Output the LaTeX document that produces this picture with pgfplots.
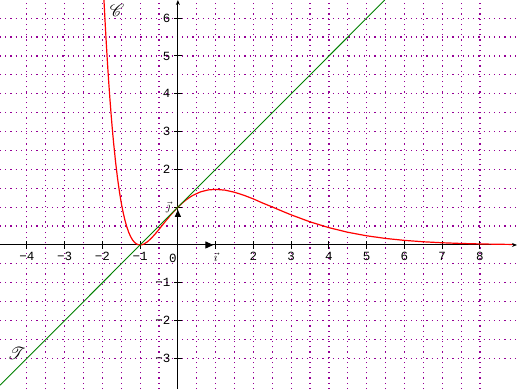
\documentclass[border=0pt]{standalone}
\usepackage{pgfplots}
\pgfplotsset{compat=1.18}
\usepackage{fontspec}
\setmonofont{Liberation Mono}
\usepackage{mathrsfs}
\usetikzlibrary{arrows.meta}
\definecolor{gridpurple}{RGB}{150,0,150}
\definecolor{tgreen}{RGB}{0,128,0}
\begin{document}
\begin{tikzpicture}
\begin{axis}[
  name=ax,
  scale only axis,
  width=517pt, height=389pt,
  xmin=-4.71, xmax=8.98,
  ymin=-3.81, ymax=6.48,
  axis lines=middle,
  axis line style={line width=1pt, -{Stealth[length=5pt,width=4pt]}},
  xtick={-4,...,8},
  xticklabels={−4,−3,−2,−1,,$\vec{\imath}$,2,3,4,5,6,7,8},
  ytick={-3,...,6},
  yticklabels={−3,−2,−1,,$\vec{\jmath}$,2,3,4,5,6},
  minor x tick num=1,
  minor y tick num=1,
  grid=both,
  major grid style={gridpurple, line width=1.2pt, dash pattern=on 1.2pt off 4pt},
  minor grid style={gridpurple, line width=1.2pt, dash pattern=on 1.2pt off 4pt},
  major tick length=8pt,
  minor tick length=0pt,
  tick align=center,
  tick style={black, line width=1pt},
  tick label style={font=\ttfamily\fontsize{12.5}{13}\selectfont, black},
  clip=true,
]
\addplot[red, line width=1.2pt] coordinates {
(-1.965,6.64) (-1.95,6.343) (-1.925,5.865) (-1.9,5.416) (-1.875,4.993) (-1.85,4.595)
(-1.825,4.222) (-1.8,3.872) (-1.775,3.544) (-1.75,3.237) (-1.725,2.950)
(-1.7,2.682) (-1.65,2.200) (-1.6,1.783) (-1.55,1.425) (-1.5,1.120) (-1.45,0.863)
(-1.4,0.649) (-1.35,0.473) (-1.3,0.330) (-1.25,0.218) (-1.2,0.133) (-1.15,0.0711)
(-1.1,0.0300) (-1.05,0.00714) (-1.0,0) (-0.95,0.0065) (-0.9,0.0246) (-0.8,0.0890) (-0.7,0.1812)
(-0.6,0.2915) (-0.5,0.4122) (-0.4,0.5370) (-0.3,0.6615) (-0.2,0.7817) (-0.1,0.8952)
(0,1) (0.1,1.0948) (0.2,1.1790) (0.3,1.2520) (0.4,1.3138) (0.6,1.4049) (0.8,1.4557) (1.0,1.4715) (1.25,1.4504)
(1.5,1.3944) (1.75,1.3144) (2,1.2177) (2.25,1.1073) (2.5,1.0057) (2.75,0.8994) (3,0.7966) (3.5,0.6116) (4,0.4579)
(4.5,0.3361) (5,0.2426) (5.5,0.1727) (6,0.1215) (6.5,0.0846) (7,0.0584) (7.5,0.0400)
(8,0.0272) (8.5,0.0183) (8.86,0.0140)
};
\addplot[tgreen, line width=0.9pt] coordinates {(-4.71,-3.71) (5.48,6.48)};
\addplot[black, line width=1pt, -{Triangle[length=8pt,width=7pt]}] coordinates {(0,0) (0.94,0)};
\addplot[black, line width=1pt, -{Triangle[length=7pt,width=6pt]}] coordinates {(0,0) (0,0.93)};
\node[font=\ttfamily\fontsize{12.5}{13}\selectfont] at (axis cs:-0.13,-0.36) {0};
\node[font=\fontsize{16}{17}\selectfont] at (axis cs:-1.61,6.21) {$\mathscr{C}$};
\node[font=\fontsize{16}{17}\selectfont] at (axis cs:-4.27,-2.86) {$\mathscr{T}$};
\end{axis}
\pgfresetboundingbox
\useasboundingbox (ax.south west) rectangle (ax.north east);
\end{tikzpicture}
\end{document}
